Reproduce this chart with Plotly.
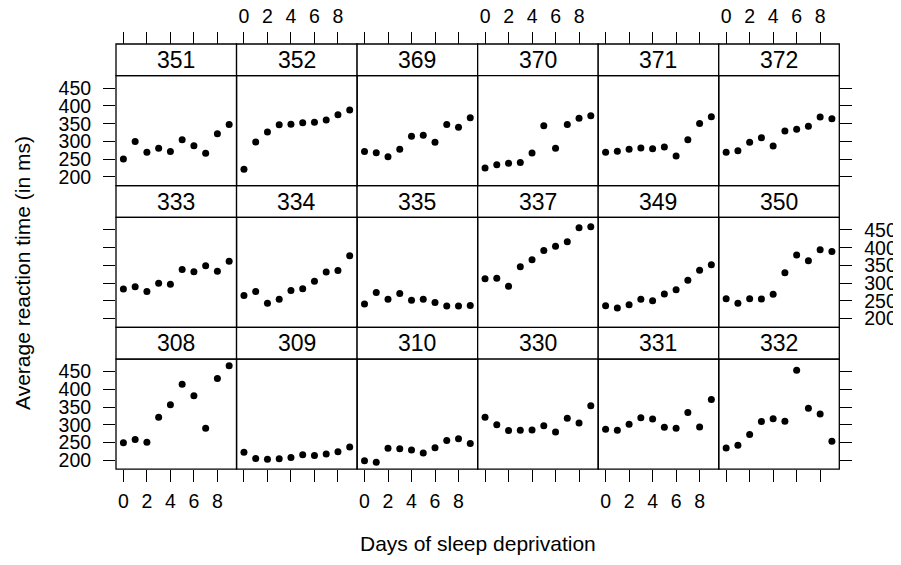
import plotly.graph_objects as go

days = [0, 1, 2, 3, 4, 5, 6, 7, 8, 9]
x_ticks = [0, 2, 4, 6, 8]
y_ticks = [200, 250, 300, 350, 400, 450]

s308 = [249.6, 258.7, 250.8, 321.4, 356.9, 414.7, 382.2, 290.1, 430.6, 466.4]
s309 = [222.7, 205.3, 203.0, 204.7, 207.7, 216.0, 213.6, 217.7, 224.3, 237.3]
s310 = [199.1, 194.3, 234.3, 232.8, 229.3, 220.5, 235.4, 255.8, 261.0, 247.5]
s330 = [321.5, 300.4, 283.9, 285.1, 285.8, 297.6, 280.2, 318.3, 305.3, 354.0]
s331 = [287.6, 285.0, 301.8, 320.1, 316.3, 293.3, 290.1, 334.8, 293.7, 371.6]
s332 = [234.9, 242.8, 273.0, 309.8, 317.5, 310.0, 454.2, 346.8, 330.3, 253.9]
s333 = [283.8, 289.6, 276.8, 299.8, 297.2, 338.2, 332.0, 348.8, 333.4, 362.0]
s334 = [265.5, 276.2, 243.4, 254.7, 279.0, 284.2, 305.5, 331.5, 335.7, 377.3]
s335 = [241.6, 273.9, 254.5, 270.8, 251.5, 254.6, 245.5, 235.3, 235.8, 237.2]
s337 = [312.4, 313.8, 291.6, 346.1, 365.7, 391.8, 404.3, 416.7, 455.9, 458.9]
s349 = [236.1, 230.3, 238.9, 254.9, 250.7, 269.8, 281.6, 308.1, 336.3, 351.6]
s350 = [256.3, 243.5, 256.2, 255.5, 268.9, 329.7, 379.4, 362.9, 394.5, 389.1]
s351 = [250.5, 300.1, 269.9, 280.6, 271.8, 304.6, 287.7, 266.6, 321.5, 347.6]
s352 = [221.7, 298.2, 326.9, 346.9, 348.7, 352.8, 354.4, 360.4, 375.6, 388.5]
s369 = [271.9, 268.4, 257.2, 277.7, 314.8, 317.2, 298.1, 348.1, 340.3, 366.5]
s370 = [225.3, 234.5, 238.9, 240.5, 267.5, 344.2, 281.1, 347.6, 365.2, 372.2]
s371 = [269.9, 272.4, 277.9, 281.8, 279.2, 284.5, 259.3, 304.6, 350.8, 369.5]
s372 = [269.4, 273.5, 297.6, 310.6, 287.2, 329.6, 334.5, 343.2, 369.1, 364.1]

panel_rows = [
    [("351", s351), ("352", s352), ("369", s369), ("370", s370), ("371", s371), ("372", s372)],
    [("333", s333), ("334", s334), ("335", s335), ("337", s337), ("349", s349), ("350", s350)],
    [("308", s308), ("309", s309), ("310", s310), ("330", s330), ("331", s331), ("332", s332)],
]

W, H = 901, 565
OFF = 8.0  # page body margin
FONT = "Liberation Sans, Arial, sans-serif"
LEFT, RIGHT = 116.0, 839.3
COLW = (RIGHT - LEFT) / 6
TOP0 = 44.0
ROWH = 141.7
STRIPH = 31.7
XR = [-0.63, 9.63]
YR = [175.29, 485.39]

def fx(px):
    return (px - OFF) / W

def fy(py):
    return 1 - (py - OFF) / H

fig = go.Figure()
layout = dict(
    width=W, height=H, margin=dict(l=0, r=0, t=0, b=0, pad=0, autoexpand=False),
    paper_bgcolor="white", plot_bgcolor="white", showlegend=False,
    font=dict(family=FONT, size=20, color="black"),
)
shapes = []
annotations = []

tick_common = dict(ticklen=12, tickwidth=1.2, tickcolor="black",
                   showgrid=False, zeroline=False, showline=False,
                   automargin=False,
                   tickfont=dict(family=FONT, size=19.5, color="black"))

for r, row in enumerate(panel_rows):
    strip_top = TOP0 + r * ROWH
    panel_top = strip_top + STRIPH
    panel_bot = strip_top + ROWH
    for c, (name, vals) in enumerate(row):
        n = r * 6 + c + 1
        xa = "x" if n == 1 else f"x{n}"
        ya = "y" if n == 1 else f"y{n}"
        xl = LEFT + c * COLW
        xr = xl + COLW
        fig.add_trace(go.Scatter(
            x=days, y=vals, mode="markers", xaxis=xa, yaxis=ya,
            marker=dict(color="black", size=7), hoverinfo="skip"))

        xkey = "xaxis" if n == 1 else f"xaxis{n}"
        ykey = "yaxis" if n == 1 else f"yaxis{n}"
        xdict = dict(domain=[fx(xl), fx(xr)], range=XR, tickvals=x_ticks,
                     **tick_common)
        if r == 0:
            xdict.update(anchor="free", position=fy(strip_top), side="top",
                         ticks="outside", showticklabels=(c % 2 == 1),
                         ticklabelstandoff=1)
        elif r == 2:
            xdict.update(anchor=ya, side="bottom", ticks="outside",
                         showticklabels=(c % 2 == 0), ticklabelstandoff=2)
        else:
            xdict.update(anchor=ya, ticks="", showticklabels=False)
        ydict = dict(domain=[fy(panel_bot), fy(panel_top)], range=YR,
                     tickvals=y_ticks, ticklabelstandoff=8, **tick_common)
        if c == 0:
            ydict.update(anchor=xa, side="left", ticks="outside",
                         showticklabels=(r != 1))
        elif c == 5:
            ydict.update(anchor=xa, side="right", ticks="outside",
                         showticklabels=(r == 1))
        else:
            ydict.update(anchor=xa, ticks="", showticklabels=False)
        layout[xkey] = xdict
        layout[ykey] = ydict

        line = dict(color="black", width=1.3)
        shapes.append(dict(type="rect", xref="paper", yref="paper",
                           x0=fx(xl), x1=fx(xr), y0=fy(panel_top), y1=fy(strip_top),
                           line=line, fillcolor="white", layer="below"))
        shapes.append(dict(type="rect", xref="paper", yref="paper",
                           x0=fx(xl), x1=fx(xr), y0=fy(panel_bot), y1=fy(panel_top),
                           line=line, fillcolor="rgba(0,0,0,0)", layer="above"))
        annotations.append(dict(text=name, xref="paper", yref="paper",
                                x=fx((xl + xr) / 2), y=fy(strip_top + STRIPH / 2),
                                xanchor="center", yanchor="middle", showarrow=False,
                                font=dict(family=FONT, size=23, color="black")))

annotations.append(dict(text="Days of sleep deprivation", xref="paper", yref="paper",
                        x=fx((LEFT + RIGHT) / 2), y=fy(543), xanchor="center",
                        yanchor="middle", showarrow=False,
                        font=dict(family=FONT, size=21, color="black")))
annotations.append(dict(text="Average reaction time (in ms)", xref="paper", yref="paper",
                        x=fx(22), y=fy(273), xanchor="center", yanchor="middle",
                        textangle=-90, showarrow=False,
                        font=dict(family=FONT, size=21, color="black")))

layout["shapes"] = shapes
layout["annotations"] = annotations
fig.update_layout(**layout)
fig.write_html("out.html")
